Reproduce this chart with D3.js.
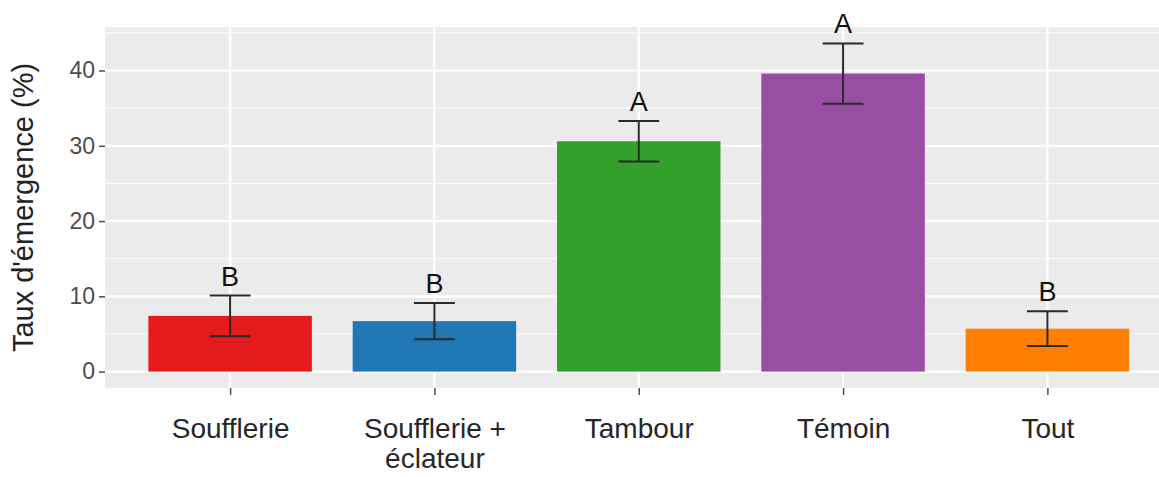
<!DOCTYPE html>
<html>
<head>
<meta charset="utf-8">
<script src="https://cdn.jsdelivr.net/npm/d3@7/dist/d3.min.js"></script>
<style>
  html, body { margin: 0; padding: 0; background: #ffffff; }
  svg { display: block; }
  text { font-family: "Liberation Sans", Arial, sans-serif; }
</style>
</head>
<body>
<script>
// Emergence rate by treatment (mean ± error), with letter groups
const categories = ["Soufflerie", "Soufflerie +\néclateur", "Tambour", "Témoin", "Tout"];
const means      = [7.4, 6.7, 30.6, 39.6, 5.7];
const errors     = [2.7, 2.4, 2.7, 4.0, 2.3];
const groups     = ["B", "B", "A", "A", "B"];
const colors     = ["#E41A1C", "#1F78B4", "#33A02C", "#984EA3", "#FF7F00"];
const yTicks     = [0, 10, 20, 30, 40];
const yMinor     = [5, 15, 25, 35, 45];
const yTitle     = "Taux d'émergence (%)";

const W = 1159, H = 477;
const panel = { left: 105, right: 1170, top: 27, bottom: 388 };

const svg = d3.select("body").append("svg")
  .attr("width", W).attr("height", H);

// y: data range padded by 5% on both sides
const yMax = d3.max(means.map((m, i) => m + errors[i]));
const pad = yMax * 0.05;
const y = d3.scaleLinear()
  .domain([-pad, yMax + pad])
  .range([panel.bottom, panel.top]);

// x: discrete positions with 0.6 step of expansion on each side
const x = d3.scalePoint()
  .domain(categories)
  .range([panel.left + 2.5, panel.right])
  .padding(0.6);
const step = x.step();
const barW = step * 0.8;
const capW = step * 0.2;

// panel background
svg.append("rect")
  .attr("x", panel.left).attr("y", panel.top)
  .attr("width", panel.right - panel.left)
  .attr("height", panel.bottom - panel.top)
  .attr("fill", "#EBEBEB");

const grid = svg.append("g");
grid.selectAll("line.minor").data(yMinor).join("line")
  .attr("x1", panel.left).attr("x2", panel.right)
  .attr("y1", d => y(d)).attr("y2", d => y(d))
  .attr("stroke", "#ffffff").attr("stroke-width", 1);
grid.selectAll("line.major").data(yTicks).join("line")
  .attr("x1", panel.left).attr("x2", panel.right)
  .attr("y1", d => y(d)).attr("y2", d => y(d))
  .attr("stroke", "#ffffff").attr("stroke-width", 2.2);
grid.selectAll("line.vmajor").data(categories).join("line")
  .attr("x1", d => x(d)).attr("x2", d => x(d))
  .attr("y1", panel.top).attr("y2", panel.bottom)
  .attr("stroke", "#ffffff").attr("stroke-width", 2.2);

// bars
svg.append("g").selectAll("rect").data(categories).join("rect")
  .attr("x", d => x(d) - barW / 2)
  .attr("width", barW)
  .attr("y", (d, i) => y(means[i]))
  .attr("height", (d, i) => y(0) - y(means[i]))
  .attr("fill", (d, i) => colors[i]);

// error bars
const eb = svg.append("g")
  .attr("stroke", "#2a2a2a").attr("stroke-width", 2).attr("fill", "none");
categories.forEach((c, i) => {
  const cx = x(c), lo = y(means[i] - errors[i]), hi = y(means[i] + errors[i]);
  eb.append("line").attr("x1", cx).attr("x2", cx).attr("y1", lo).attr("y2", hi);
  eb.append("line").attr("x1", cx - capW / 2).attr("x2", cx + capW / 2).attr("y1", hi).attr("y2", hi);
  eb.append("line").attr("x1", cx - capW / 2).attr("x2", cx + capW / 2).attr("y1", lo).attr("y2", lo);
});

// group letters above the error bars
svg.append("g").selectAll("text").data(categories).join("text")
  .attr("x", d => x(d))
  .attr("y", (d, i) => y(means[i] + errors[i]) - 10)
  .attr("text-anchor", "middle")
  .attr("font-size", 27)
  .attr("fill", "#111111")
  .text((d, i) => groups[i]);

// y axis
const yAxis = svg.append("g")
  .attr("transform", `translate(${panel.left},0)`)
  .call(d3.axisLeft(y).tickValues(yTicks).tickSize(6).tickPadding(4).tickFormat(d3.format("d")));
yAxis.select(".domain").remove();
yAxis.selectAll(".tick line").attr("stroke", "#4d4d4d").attr("stroke-width", 1.5);
yAxis.selectAll(".tick text")
  .attr("font-size", 23).attr("fill", "#4d4d4d")
  .attr("font-family", "\"Liberation Sans\", Arial, sans-serif");

// x axis
const xAxis = svg.append("g")
  .attr("transform", `translate(0,${panel.bottom})`)
  .call(d3.axisBottom(x).tickSize(7).tickFormat(""));
xAxis.select(".domain").remove();
xAxis.selectAll(".tick line").attr("stroke", "#4d4d4d").attr("stroke-width", 1.5);
xAxis.selectAll(".tick").each(function (d) {
  const t = d3.select(this).append("text")
    .attr("text-anchor", "middle")
    .attr("font-size", 28)
    .attr("fill", "#262626")
    .attr("font-family", "\"Liberation Sans\", Arial, sans-serif");
  d.split("\n").forEach((line, k) => {
    t.append("tspan").attr("x", 0).attr("y", 50 + k * 30).text(line);
  });
});

// y axis title
svg.append("text")
  .attr("transform", `translate(33,${(panel.top + panel.bottom) / 2}) rotate(-90)`)
  .attr("text-anchor", "middle")
  .attr("font-size", 29)
  .attr("fill", "#222222")
  .text(yTitle);
</script>
</body>
</html>
